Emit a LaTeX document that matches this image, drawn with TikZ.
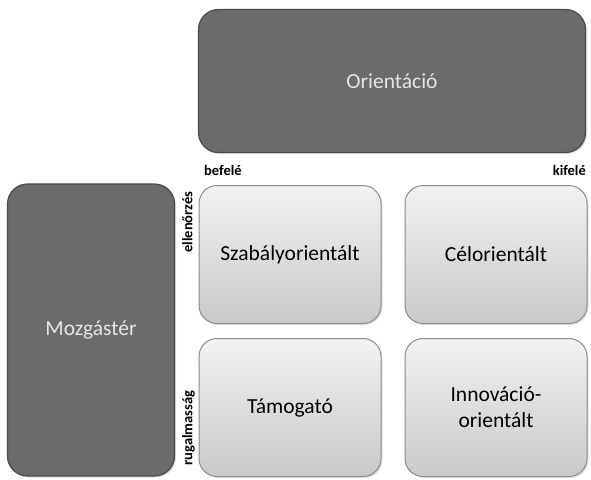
\documentclass[tikz,border=0pt]{standalone}
\usepackage{fontspec}
\setmainfont{Carlito}
\usetikzlibrary{shadows}
\definecolor{darkfill}{HTML}{6B6B6B}
\definecolor{darkline}{HTML}{4A4A4A}
\definecolor{darktext}{HTML}{E6E6E6}
\definecolor{lighttop}{HTML}{F2F2F2}
\definecolor{lightbot}{HTML}{C9C9C9}
\definecolor{lightline}{HTML}{8C8C8C}
\begin{document}
\begin{tikzpicture}[x=1pt,y=-1pt,
  darkbox/.style={draw=darkline, line width=1.2pt, fill=darkfill, rounded corners=20pt,
    text=darktext, font=\fontsize{21.5}{24}\selectfont, inner sep=0pt, align=center,
    drop shadow={opacity=0.25, shadow xshift=1.5pt, shadow yshift=-1.5pt}},
  lightbox/.style={draw=lightline, line width=1pt, top color=lighttop, bottom color=lightbot,
    rounded corners=18pt, text=black, font=\fontsize{21.5}{26}\selectfont, inner sep=0pt, align=center,
    minimum width=182pt, minimum height=138pt,
    drop shadow={opacity=0.25, shadow xshift=1.5pt, shadow yshift=-1.5pt}},
  axislabel/.style={font=\bfseries\fontsize{14.5}{16}\selectfont, text=black, inner sep=0pt}]
\useasboundingbox (0,0) rectangle (591,479);
\node[darkbox, minimum width=387pt, minimum height=143pt] (orient) at (392,81) {Orientáció};
\node[darkbox, minimum width=167pt, minimum height=292pt] (mozg) at (91,330) {Mozgástér};
\node[lightbox] (szab) at (290,254.5) {Szabályorientált};
\node[lightbox] (cel) at (496,254.5) {Célorientált};
\node[lightbox] (tam) at (290,407.5) {Támogató};
\node[lightbox] (inno) at (496,407.5) {Innováció-\\orientált};
\node[axislabel, anchor=west] (befele) at (204,170) {befelé};
\node[axislabel, anchor=east] (kifele) at (586,170) {kifelé};
\node[axislabel, rotate=90, anchor=north] (ellen) at (182,222) {ellenőrzés};
\node[axislabel, rotate=90, anchor=north] (rugal) at (182,428) {rugalmasság};
\end{tikzpicture}
\end{document}
